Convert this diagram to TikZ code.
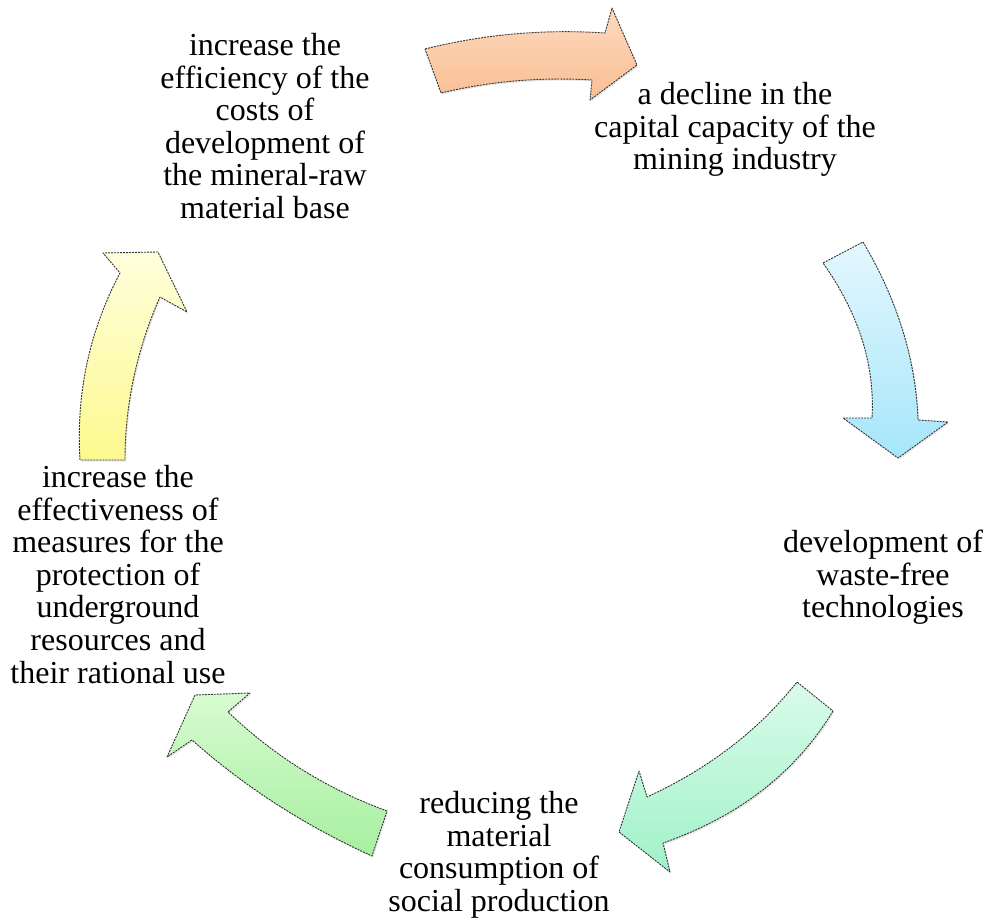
\documentclass[tikz,border=0pt]{standalone}
\usepackage{fontspec}
\setmainfont{Liberation Serif}
\usetikzlibrary{shadows}
\definecolor{peachT}{RGB}{253,218,190}
\definecolor{peachB}{RGB}{249,190,148}
\definecolor{blueT}{RGB}{228,247,254}
\definecolor{blueB}{RGB}{166,230,250}
\definecolor{mintT}{RGB}{218,251,234}
\definecolor{mintB}{RGB}{160,242,200}
\definecolor{greenT}{RGB}{216,251,208}
\definecolor{greenB}{RGB}{166,240,160}
\definecolor{yelT}{RGB}{255,255,221}
\definecolor{yelB}{RGB}{252,249,143}
\begin{document}
\begin{tikzpicture}[x=1pt,y=-1pt,
  cyc/.style={draw=black!80, line width=0.9pt, dash pattern=on 2pt off 1pt, line join=round,
    drop shadow={shadow xshift=1.2pt, shadow yshift=-1.6pt, opacity=0.18}},
  lbl/.style={anchor=north, inner sep=0pt, align=center, font=\fontsize{32}{32.6}\selectfont}]
\useasboundingbox (0,0) rectangle (986,920);

% arrows
\path[cyc, top color=peachT, bottom color=peachB]
  (425,49) .. controls (485,34) and (545,29) .. (605,33) -- (612,8) -- (637,65)
  -- (590,100) -- (592,80) .. controls (541,77) and (491,81) .. (441,93) -- cycle;
\path[cyc, top color=blueT, bottom color=blueB]
  (863,242) .. controls (898,301) and (916,361) .. (918,420) -- (948,422) -- (898,458)
  -- (843,418) -- (872,418) .. controls (875,365) and (859,314) .. (823,263) -- cycle;
\path[cyc, top color=mintT, bottom color=mintB]
  (833,711) .. controls (796,772) and (740,816) .. (663,843) -- (670,872) -- (619,832)
  -- (639,771) -- (647,797) .. controls (708,769) and (758,731) .. (797,682) -- cycle;
\path[cyc, top color=greenT, bottom color=greenB]
  (387,811) .. controls (327,789) and (274,756) .. (228,712) -- (250,693) -- (195,695)
  -- (167,757) -- (192,740) .. controls (246,788) and (306,826) .. (372,856) -- cycle;
\path[cyc, top color=yelT, bottom color=yelB]
  (80,460) .. controls (76,394) and (89,332) .. (120,273) -- (103,253) -- (158,252)
  -- (187,312) -- (160,297) .. controls (137,349) and (125,404) .. (125,460) -- cycle;

% labels
\node[lbl] (tl) at (265,33) {increase the\\efficiency of the\\costs of\\development of\\the mineral-raw\\material base};
\node[lbl] (tr) at (735,82) {a decline in the\\capital capacity of the\\mining industry};
\node[lbl] (r) at (883,530) {development of\\waste-free\\technologies};
\node[lbl] (b) at (499,791) {reducing the\\material\\consumption of\\social production};
\node[lbl] (l) at (118,465) {increase the\\effectiveness of\\measures for the\\protection of\\underground\\resources and\\their rational use};
\end{tikzpicture}
\end{document}
